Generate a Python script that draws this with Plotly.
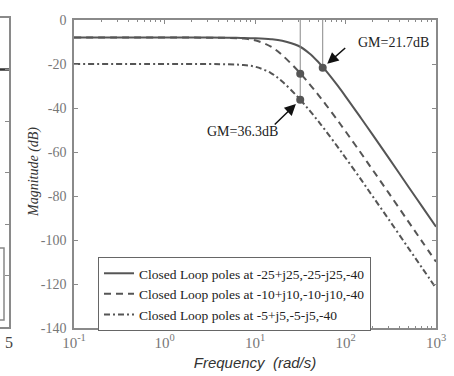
import math
import plotly.graph_objects as go

# ---- data ----
freq = [0.1, 1, 3, 5, 7, 10, 15, 20, 30, 40, 50, 60, 80, 100, 150, 200, 300, 500, 700, 1000]
mag_p25 = [-8.0, -8.0, -8.0, -8.05, -8.15, -8.3, -8.7, -9.4, -11.7, -15.2, -19.1, -22.8, -29.3, -34.7, -44.9, -52.2, -62.7, -76.0, -84.7, -94.0]
mag_p10 = [-8.0, -8.0, -8.03, -8.14, -8.38, -9.2, -12.1, -16.0, -23.2, -29.1, -34.0, -38.2, -45.1, -50.6, -60.8, -68.2, -78.6, -91.9, -100.6, -109.9]
mag_p5 = [-20.0, -20.0, -20.03, -20.14, -20.38, -21.2, -24.1, -28.0, -35.2, -41.1, -46.0, -50.2, -57.1, -62.6, -72.8, -80.2, -90.6, -103.9, -112.6, -121.9]
names = ["Closed Loop poles at -25+j25,-25-j25,-40",
         "Closed Loop poles at -10+j10,-10-j10,-40",
         "Closed Loop poles at -5+j5,-5-j5,-40"]
gm_freq = [56, 31.6, 31.6]
gm_mag = [-21.7, -24.4, -36.3]
gm_labels = ["GM=21.7dB", "GM=36.3dB"]
xtick_vals = [0.1, 1, 10, 100, 1000]
xtick_text = ["10<sup>-1</sup>", "10<sup>0</sup>", "10<sup>1</sup>", "10<sup>2</sup>", "10<sup>3</sup>"]
ytick_vals = [0, -20, -40, -60, -80, -100, -120, -140]
ytick_text = ["0", "-20", "-40", "-60", "-80", "-100", "-120", "-140"]
left_x = [0, 5]
left_y = [5, 5]

minor_vals = [m * 10 ** e for e in range(-1, 3) for m in range(2, 10)]

W, H = 454, 376
ML, MR, MT, MB = 0, 18, 18, 48
PW, PH = W - ML - MR, H - MT - MB
def px_x(p): return (p - ML) / PW
def px_y(p): return (H - MB - p) / PH

curve_col = "#555555"
frame_col = "#8a8a8a"
serif = "Liberation Serif"

fig = go.Figure()
fig.add_trace(go.Scatter(x=freq, y=mag_p25, mode="lines", name=names[0],
                         line=dict(color=curve_col, width=2, shape="spline")))
fig.add_trace(go.Scatter(x=freq, y=mag_p10, mode="lines", name=names[1],
                         line=dict(color=curve_col, width=2, dash="7px,5px", shape="spline")))
fig.add_trace(go.Scatter(x=freq, y=mag_p5, mode="lines", name=names[2],
                         line=dict(color=curve_col, width=2, dash="6px,3px,2px,3px", shape="spline")))
# vertical GM lines
fig.add_trace(go.Scatter(x=[gm_freq[0], gm_freq[0]], y=[0, gm_mag[0]], mode="lines",
                         line=dict(color="#888888", width=1), showlegend=False))
fig.add_trace(go.Scatter(x=[gm_freq[2], gm_freq[2]], y=[0, gm_mag[2]], mode="lines",
                         line=dict(color="#888888", width=1), showlegend=False))
fig.add_trace(go.Scatter(x=gm_freq, y=gm_mag, mode="markers",
                         marker=dict(color=curve_col, size=8), showlegend=False))
# partial left panel
fig.add_trace(go.Scatter(x=left_x, y=left_y, mode="lines", xaxis="x2", yaxis="y2",
                         line=dict(color="#333333", width=2.5), showlegend=False))

fig.update_layout(
    width=W, height=H, margin=dict(l=ML, r=MR, t=MT, b=MB, autoexpand=False),
    paper_bgcolor="white", plot_bgcolor="white",
    xaxis=dict(type="log", range=[-1, 3], domain=[px_x(74), 1], automargin=False,
               tickmode="array", tickvals=xtick_vals, ticktext=xtick_text,
               ticks="inside", ticklen=4, tickcolor=frame_col,
               minor=dict(tickmode="array", tickvals=minor_vals, ticks="inside", ticklen=2, tickcolor=frame_col),
               showline=True, linecolor=frame_col, linewidth=1.5, mirror="ticks",
               showgrid=False, zeroline=False,
               tickfont=dict(family=serif, size=15, color="#777777"),
               title=dict(text="<i>Frequency  (rad/s)</i>", font=dict(family="Liberation Sans", size=15, color="#333333"), standoff=8)),
    yaxis=dict(range=[-140, 0], domain=[0, px_y(20)], automargin=False,
               tickmode="array", tickvals=ytick_vals, ticktext=ytick_text,
               ticks="inside", ticklen=4, tickcolor=frame_col,
               showline=True, linecolor=frame_col, linewidth=1.5, mirror="ticks",
               showgrid=False, zeroline=False,
               tickfont=dict(family=serif, size=14, color="#777777"), ticklabelstandoff=3),
    xaxis2=dict(domain=[0, px_x(9)], range=[0, 5], anchor="y2", automargin=False,
                tickmode="array", tickvals=[5], ticktext=["5"], ticks="",
                showline=True, linecolor=frame_col, linewidth=1.5, mirror=True,
                showgrid=False, zeroline=False,
                tickfont=dict(family=serif, size=16, color="#444444")),
    yaxis2=dict(domain=[px_y(327), 1], range=[0, 6], anchor="x2", side="right", automargin=False,
                dtick=1, ticks="inside", ticklen=4, tickcolor=frame_col, showticklabels=False,
                showline=True, linecolor=frame_col, linewidth=1.5,
                showgrid=False, zeroline=False),
    legend=dict(x=px_x(98), y=px_y(294), xanchor="left", yanchor="middle",
                bgcolor="white", bordercolor="#666666", borderwidth=1,
                font=dict(family=serif, size=13.5, color="#222222"),
                tracegroupgap=0, itemwidth=30),
    showlegend=True,
)
fig.add_shape(type="rect", xref="paper", yref="paper", x0=-0.05, x1=px_x(4),
              y0=px_y(320), y1=px_y(248), line=dict(color="#888888", width=1.5))

# y-axis title
fig.add_annotation(xref="paper", yref="paper", x=px_x(34), y=px_y(172), xanchor="center", yanchor="middle",
                   text="<i>Magnitude (dB)</i>", textangle=-90, showarrow=False,
                   font=dict(family=serif, size=14, color="#333333"))

fig.add_annotation(x=math.log10(gm_freq[0]), y=gm_mag[0], ax=24, ay=-21, text="",
                   showarrow=True, arrowhead=2, arrowsize=1.5, arrowwidth=1.5, arrowcolor="#111111", standoff=6)
fig.add_annotation(x=math.log10(gm_freq[2]), y=gm_mag[2], ax=-27, ay=26, text="",
                   showarrow=True, arrowhead=2, arrowsize=1.5, arrowwidth=1.5, arrowcolor="#111111", standoff=6)
fig.add_annotation(x=2.525, y=-10, text=gm_labels[0], showarrow=False,
                   font=dict(family=serif, size=14, color="#222222"))
fig.add_annotation(x=0.867, y=-50.5, text=gm_labels[1], showarrow=False,
                   font=dict(family=serif, size=14, color="#222222"))

fig.write_html("out.html")
